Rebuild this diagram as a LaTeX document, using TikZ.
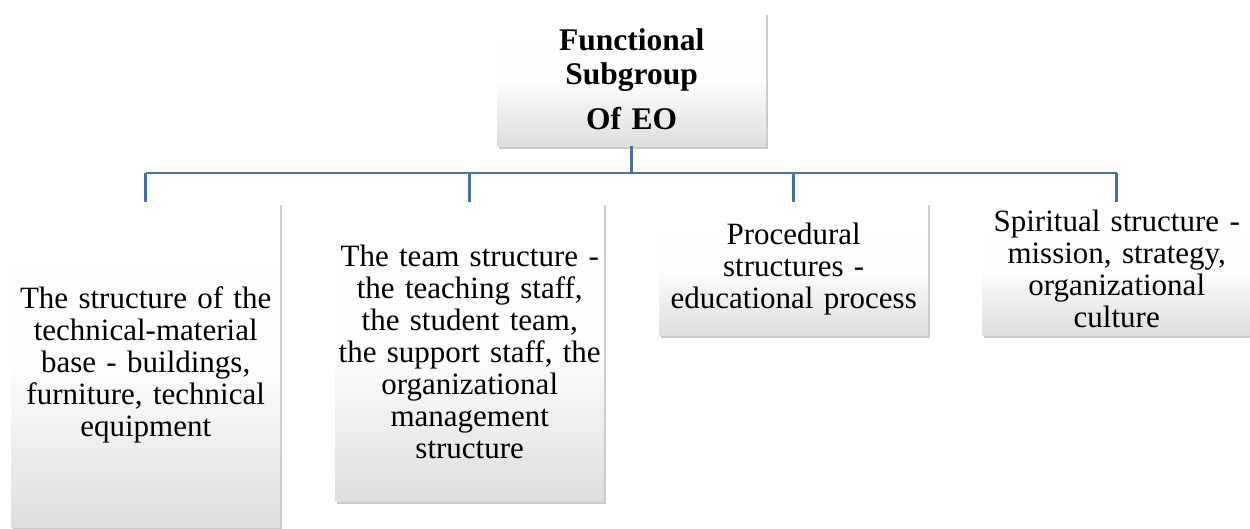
\documentclass[tikz,border=0pt]{standalone}
\usepackage{fontspec}
\setmainfont{Liberation Serif}
\usetikzlibrary{shadows}
\definecolor{connblue}{RGB}{70,112,166}
\definecolor{boxbottom}{RGB}{222,222,222}
\begin{document}
\begin{tikzpicture}[x=1pt,y=-1pt,
  box/.style={rectangle, anchor=north west, minimum width=269pt, text width=268pt,
    align=center, inner sep=0.5pt, top color=white, bottom color=boxbottom,
    middle color=white!96!boxbottom,
    font=\fontsize{31}{32}\selectfont,
    drop shadow={shadow xshift=2pt, shadow yshift=-3pt, opacity=0.35, fill=black!60}},
  conn/.style={draw=connblue, line width=2.6pt}]
\useasboundingbox (0,0) rectangle (1250,528);
\node[box, minimum height=134pt, font=\fontsize{31.5}{34}\selectfont\bfseries] (top) at (497,12)
  {Functional\\Subgroup\\[11pt]Of EO};
\node[box, minimum height=325pt] (b1) at (11,202)
  {The structure of the\\technical-material\\base - buildings,\\furniture, technical\\equipment};
\node[box, minimum height=299pt] (b2) at (335,202)
  {The team structure -\\the teaching staff,\\the student team,\\the support staff, the\\organizational\\management\\structure};
\node[box, minimum height=133pt] (b3) at (659,202)
  {Procedural\\structures -\\educational process};
\node[box, minimum height=133pt] (b4) at (982,202)
  {Spiritual structure -\\mission, strategy,\\organizational\\culture};
\coordinate (bus) at (0,173);
\draw[conn] (top.south) -- (top.south |- bus);
\draw[conn] (b1.north |- bus) -- (b4.north |- bus);
\foreach \b in {b1,b2,b3,b4} \draw[conn] (\b.north |- bus) -- (\b.north);
\end{tikzpicture}
\end{document}
